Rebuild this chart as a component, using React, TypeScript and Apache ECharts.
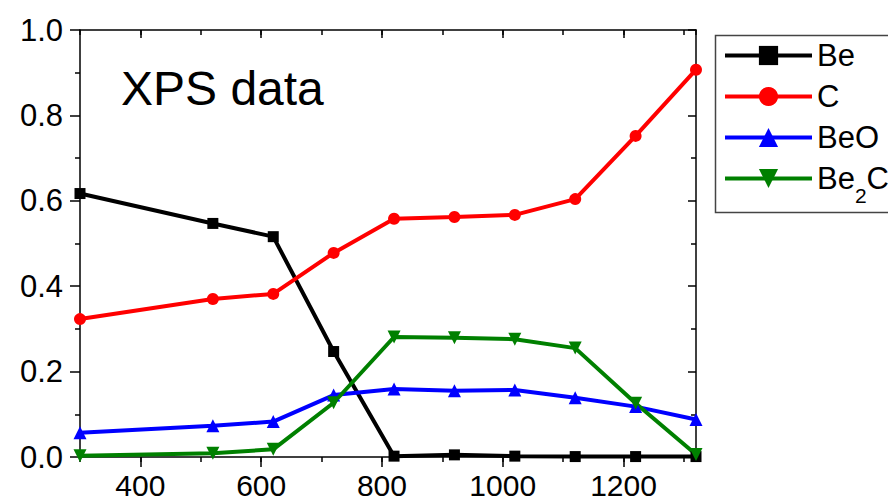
import React, { useEffect, useRef } from "react";
import * as echarts from "echarts";

const temperatures = [300, 520, 620, 720, 820, 920, 1020, 1120, 1220, 1320];
const seriesNames = ["Be", "C", "BeO", "Be2C"];
const beValues = [0.617, 0.547, 0.516, 0.247, 0.002, 0.005, 0.002, 0.001, 0.001, 0.001];
const cValues = [0.323, 0.370, 0.382, 0.478, 0.558, 0.562, 0.567, 0.604, 0.752, 0.907];
const beoValues = [0.057, 0.073, 0.083, 0.145, 0.159, 0.155, 0.157, 0.139, 0.118, 0.088];
const be2cValues = [0.003, 0.009, 0.018, 0.127, 0.281, 0.279, 0.276, 0.255, 0.126, 0.006];
const xMajorTicks = [400, 600, 800, 1000, 1200];
const yTickLabels = ["0.0", "0.2", "0.4", "0.6", "0.8", "1.0"];
const annotation = "XPS data";

const FONT = '"Liberation Sans", Arial, Helvetica, sans-serif';

export default function App() {
  const ref = useRef<HTMLDivElement>(null);
  useEffect(() => {
    if (!ref.current) return;
    const chart = echarts.init(ref.current, null, { renderer: "svg" });
    const mk = (data: number[]) => temperatures.map((t, i) => [t, data[i]]);
    const axisLine = { show: true, lineStyle: { color: "#000", width: 1.5 } };
    const xBase = { type: "value", min: 300, max: 1320, interval: 100, splitLine: { show: false }, gridIndex: 0 };
    const yBase = { type: "value", min: 0, max: 1, interval: 0.2, splitLine: { show: false } };
    const option: any = {
      animation: false,
      backgroundColor: "#fff",
      grid: { left: 80, right: 192, top: 30, bottom: 44, containLabel: false },
      xAxis: [
        {
          ...xBase,
          position: "bottom",
          axisLine,
          axisTick: { show: true, length: 10, customValues: xMajorTicks, lineStyle: { color: "#000", width: 1.5 } },
          axisLabel: {
            show: true,
            customValues: xMajorTicks,
            fontSize: 30,
            lineHeight: 26,
            fontFamily: FONT,
            color: "#000",
            margin: 15,
            formatter: (v: number) => String(v),
          },
        },
        {
          ...xBase,
          position: "bottom",
          axisLine: { show: false },
          axisTick: { show: true, length: 5, lineStyle: { color: "#000", width: 1.5 } },
          axisLabel: { show: false },
        },
        {
          ...xBase,
          position: "top",
          axisLine,
          axisTick: { show: true, inside: true, length: 8, customValues: xMajorTicks, lineStyle: { color: "#000", width: 1.5 } },
          axisLabel: { show: false },
        },
        {
          ...xBase,
          position: "top",
          axisLine: { show: false },
          axisTick: { show: true, inside: true, length: 5, lineStyle: { color: "#000", width: 1.5 } },
          axisLabel: { show: false },
        },
      ],
      yAxis: [
        {
          ...yBase,
          position: "left",
          axisLine,
          axisTick: { show: true, length: 10, lineStyle: { color: "#000", width: 1.5 } },
          minorTick: { show: true, splitNumber: 2, length: 5, lineStyle: { color: "#000", width: 1.5 } },
          axisLabel: {
            show: true,
            fontSize: 31,
            fontFamily: FONT,
            color: "#000",
            margin: 17,
            formatter: (v: number) => yTickLabels[Math.round(v / 0.2)] ?? "",
          },
        },
        {
          ...yBase,
          position: "right",
          axisLine,
          axisTick: { show: true, inside: true, length: 8, lineStyle: { color: "#000", width: 1.5 } },
          minorTick: { show: true, splitNumber: 2, length: 5, lineStyle: { color: "#000", width: 1.5 } },
          axisLabel: { show: false },
        },
      ],
      legend: {
        orient: "vertical",
        left: 713,
        top: 28,
        itemWidth: 87,
        itemHeight: 24,
        itemGap: -14,
        padding: [0, 10, 0, 10],
        lineStyle: { width: 4 },
        data: seriesNames,
        formatter: (name: string) => (name === "Be2C" ? "{n|Be}{sub|2}{n|C}" : "{n|" + name + "}{pad| }"),
        textStyle: {
          fontFamily: FONT,
          fontSize: 31,
          color: "#000",
          rich: {
            n: { fontFamily: FONT, fontSize: 31, color: "#000", lineHeight: 30 },
            pad: { fontFamily: FONT, fontSize: 21, color: "#000", lineHeight: 10, padding: [34, 0, 0, 0] },
            sub: { fontFamily: FONT, fontSize: 21, color: "#000", lineHeight: 10, padding: [34, 0, 0, 0] },
          },
        },
      },
      graphic: [
        {
          type: "rect",
          left: 713,
          top: 33,
          shape: { width: 200, height: 177 },
          style: { fill: "none", stroke: "#444", lineWidth: 1.5 },
          z: 10,
        },
        {
          type: "text",
          left: 121,
          top: 64,
          style: { text: annotation, font: "48px " + FONT, fill: "#000" },
        },
      ],
      series: [
        {
          name: seriesNames[0],
          type: "line",
          data: mk(beValues),
          symbol: "rect",
          symbolSize: 11,
          clip: false,
          itemStyle: { color: "#000" },
          lineStyle: { color: "#000", width: 4 },
        },
        {
          name: seriesNames[1],
          type: "line",
          data: mk(cValues),
          symbol: "circle",
          symbolSize: 12,
          clip: false,
          itemStyle: { color: "#ff0000" },
          lineStyle: { color: "#ff0000", width: 4 },
        },
        {
          name: seriesNames[2],
          type: "line",
          data: mk(beoValues),
          symbol: "triangle",
          symbolSize: 13,
          clip: false,
          itemStyle: { color: "#0000ff" },
          lineStyle: { color: "#0000ff", width: 4 },
        },
        {
          name: seriesNames[3],
          type: "line",
          data: mk(be2cValues),
          symbol: "triangle",
          symbolRotate: 180,
          symbolSize: 13,
          clip: false,
          itemStyle: { color: "#008000" },
          lineStyle: { color: "#008000", width: 4 },
        },
      ],
    };
    chart.setOption(option);
    return () => chart.dispose();
  }, []);
  return (
    <div
      ref={ref}
      style={{ position: "fixed", left: 0, top: 0, width: 888, height: 501, background: "#fff" }}
    />
  );
}
